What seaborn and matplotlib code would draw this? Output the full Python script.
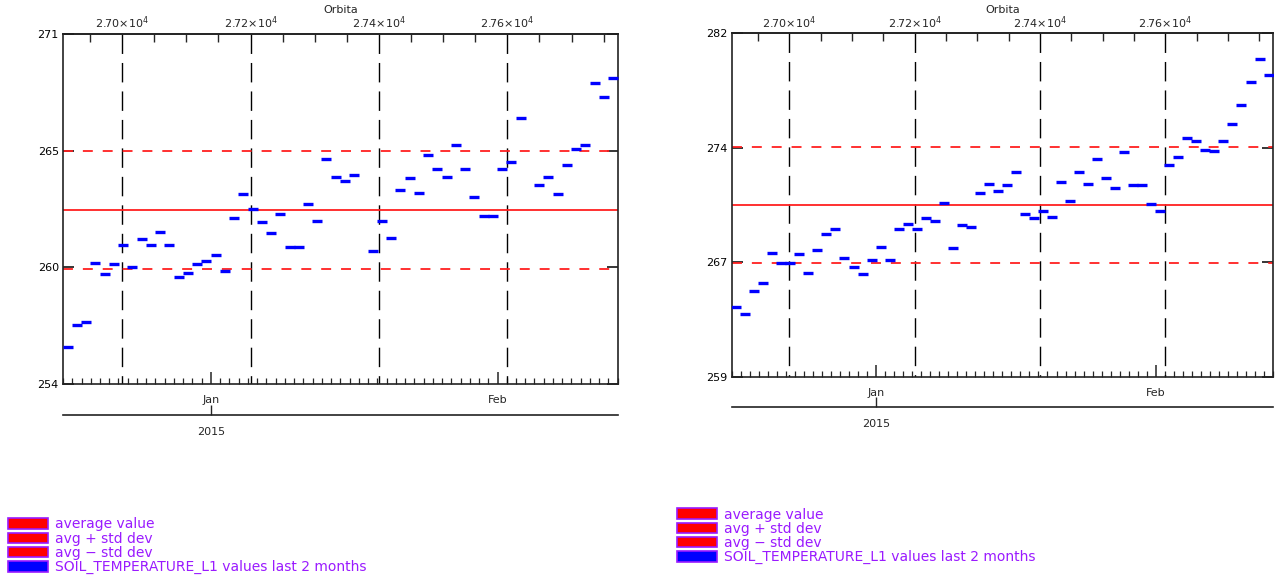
import numpy as np
import pandas as pd
import matplotlib
matplotlib.use("Agg")
import matplotlib.pyplot as plt
import matplotlib.dates as mdates
from matplotlib.patches import Patch
from matplotlib.ticker import MultipleLocator, NullLocator
import seaborn as sns

# ---------------- data ----------------
start_date = "2014-12-16"
n_days = 60
day_centres = pd.date_range(start_date, periods=n_days, freq="D") + pd.Timedelta(hours=12)

left_values = [255.8, 256.86, 256.99, 259.9, 259.33, 259.83, 260.76, 259.69, 261.03, 260.76,
               261.40, 260.76, 259.19, 259.40, 259.83, 259.98, 260.26, 259.48, 262.08, 263.23,
               262.50, 261.89, 261.32, 262.25, 260.68, 260.68, 262.73, 261.94, 264.93, 264.07,
               263.86, 264.16, np.nan, 260.47, 261.94, 261.10, 263.44, 264.01, 263.28, 265.14,
               264.43, 264.07, 265.63, 264.43, 263.09, 262.17, 262.17, 264.43, 264.79, 266.91,
               np.nan, 263.65, 264.07, 263.23, 264.64, 265.43, 265.63, 268.61, 267.96, 268.88]

right_values = [263.69, 263.20, 264.74, 265.30, 267.31, 266.64, 266.64, 267.22, 265.97, 267.51,
                268.58, 268.87, 266.93, 266.37, 265.90, 266.84, 267.71, 266.84, 268.87, 269.25,
                268.87, 269.63, 269.43, 270.66, 267.60, 269.14, 269.05, 271.33, 271.93, 271.46,
                271.82, 272.69, 269.92, 269.63, 270.10, 269.72, 272.02, 270.77, 272.69, 271.93,
                273.56, 272.31, 271.64, 274.03, 271.82, 271.82, 270.57, 270.10, 273.16, 273.74,
                274.99, 274.79, 274.21, 274.12, 274.79, 275.95, 277.20, 278.72, 280.26, 279.21]

left_avg, left_std = 262.45, 2.86
right_avg, right_std = 270.5, 3.86
left_ylim = (254, 271)
right_ylim = (259, 282)

orbit_ticks = [27000, 27200, 27400, 27600]
orbit_labels = ["2.70\u00d710$^4$", "2.72\u00d710$^4$", "2.74\u00d710$^4$", "2.76\u00d710$^4$"]
orbit_ref_day = 6.4        # days after start when orbit 27000 occurs
orbits_per_day = 14.4

year_label = "2015"
legend_labels = ["average value", "avg + std dev", "avg \u2212 std dev",
                 "SOIL_TEMPERATURE_L1 values last 2 months"]

# ---------------- style ----------------
sns.set_theme(style="ticks")
plt.rcParams["font.family"] = ["DejaVu Sans"]
plt.rcParams["axes.linewidth"] = 1.2
TXT = "#9a1aff"

fig = plt.figure(figsize=(12.81, 5.80), dpi=100)
ax_l = fig.add_axes([0.0492, 0.338, 0.433, 0.603])
ax_r = fig.add_axes([0.5712, 0.3505, 0.4226, 0.592])

x0 = mdates.date2num(pd.Timestamp(start_date))
x_end = x0 + n_days


def to_orbit(x):
    return 27000 + (np.asarray(x) - x0 - orbit_ref_day) * orbits_per_day


def from_orbit(o):
    return x0 + orbit_ref_day + (np.asarray(o) - 27000) / orbits_per_day


def draw(ax, values, avg, std, ylim, year_off):
    # reference lines
    for o in orbit_ticks:
        ax.axvline(from_orbit(o), ymin=1, ymax=0, color="black", lw=1.0,
                   ls=(0, (14, 6.5)), zorder=1)
    ax.axhline(avg, color="#ff2020", lw=1.3, zorder=2)
    for v in (avg + std, avg - std):
        ax.axhline(v, color="#ff2020", lw=1.3, ls=(0, (5.5, 5.5)), zorder=2)

    df = pd.DataFrame({"date": day_centres, "value": values}).dropna()
    sns.scatterplot(data=df, x="date", y="value", marker="_", s=48, linewidth=2.4,
                    color="#0000ff", ax=ax, legend=False, zorder=3)

    ax.set_xlim(x0, x_end)
    ax.set_ylim(*ylim)
    ax.set_xlabel("")
    ax.set_ylabel("")

    yt = np.linspace(ylim[0], ylim[1], 4)
    ax.set_yticks(yt, labels=[f"{v:.0f}" for v in yt])
    ax.tick_params(axis="y", which="major", left=True, right=True, direction="in",
                   length=8, width=1.1, labelsize=8, pad=3, colors="black")

    ax.xaxis.set_major_locator(mdates.MonthLocator())
    ax.xaxis.set_major_formatter(mdates.DateFormatter("%b"))
    ax.xaxis.set_minor_locator(mdates.DayLocator())
    ax.tick_params(axis="x", which="major", direction="in", length=9, width=1.1,
                   labelsize=8, pad=8, top=False)
    ax.tick_params(axis="x", which="minor", direction="in", length=4, width=0.9, top=False)
    for s in ax.spines.values():
        s.set_visible(True)
        s.set_color("#222222")

    # orbit axis on top
    sec = ax.secondary_xaxis("top", functions=(to_orbit, from_orbit))
    sec.set_xticks(orbit_ticks, labels=orbit_labels)
    sec.xaxis.set_minor_locator(MultipleLocator(50))
    sec.tick_params(axis="x", which="major", direction="in", length=0, labelsize=8, pad=2)
    sec.tick_params(axis="x", which="minor", direction="in", length=6, width=1.0)
    sec.set_xlabel("Orbita", fontsize=8, labelpad=1)

    # year axis below
    yr = ax.secondary_xaxis(year_off)
    yr.set_xticks([mdates.date2num(pd.Timestamp(year_label + "-01-01"))], labels=[year_label])
    yr.xaxis.set_minor_locator(NullLocator())
    yr.tick_params(axis="x", which="major", direction="in", length=7, width=1.0,
                   labelsize=8, pad=9)
    for s in yr.spines.values():
        s.set_color("#222222")


draw(ax_l, left_values, left_avg, left_std, left_ylim, -0.088)
draw(ax_r, right_values, right_avg, right_std, right_ylim, -0.088)

handles = [Patch(facecolor="#ff0000", edgecolor=TXT, lw=1.2)] * 3 + \
          [Patch(facecolor="#0000ff", edgecolor=TXT, lw=1.2)]
for anchor in [(0.006, 0.108), (0.5285, 0.125)]:
    fig.legend(handles, legend_labels, loc="upper left", bbox_to_anchor=anchor,
               frameon=False, fontsize=10, labelcolor=TXT, handlelength=2.9,
               handleheight=0.78, handletextpad=0.5, labelspacing=0.02,
               borderpad=0, borderaxespad=0)

fig.savefig("out.png", dpi=100)
